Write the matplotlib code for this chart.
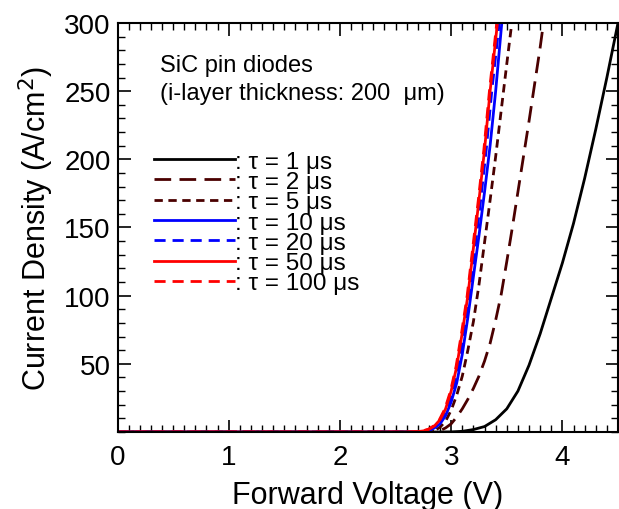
import numpy as np
import matplotlib.pyplot as plt
from matplotlib.ticker import MultipleLocator

plt.rcParams['font.family'] = ['Liberation Sans', 'DejaVu Sans']

# forward voltage (V) vs current density (A/cm^2)
v_1us = [0.0, 2.9, 3.0, 3.1, 3.2, 3.3, 3.4, 3.5, 3.6, 3.7, 3.8, 3.9, 4.0, 4.1, 4.2, 4.3, 4.4, 4.5]
j_1us = [0.0, 0.0, 0.1, 0.5, 1.8, 4.0, 9.0, 17.0, 30.0, 49.0, 72.0, 98.0, 124.0, 153.0, 186.0, 222.0, 260.0, 300.0]

v_2us = [0.0, 2.8, 2.9, 2.95, 3.0, 3.05, 3.1, 3.15, 3.2, 3.25, 3.3, 3.35, 3.4, 3.45,
         3.5, 3.55, 3.6, 3.65, 3.7, 3.75, 3.8, 3.83]
j_2us = [0.0, 0.0, 1.0, 3.0, 6.0, 11.0, 17.0, 24.0, 32.0, 41.0, 52.0, 65.0, 82.0, 101.0,
         125.0, 150.0, 176.0, 202.0, 228.0, 255.0, 282.0, 300.0]

v_5us = [0.0, 2.7, 2.82, 2.86, 2.9, 2.95, 3.0, 3.05, 3.1, 3.15, 3.2, 3.25, 3.3, 3.35,
         3.4, 3.45, 3.5, 3.545]
j_5us = [0.0, 0.0, 0.5, 1.5, 3.5, 8.0, 16.0, 27.0, 41.0, 60.0, 81.0, 108.0, 139.0, 170.0,
         202.0, 236.0, 270.0, 300.0]

v_10us = [0.0, 2.65, 2.75, 2.8, 2.85, 2.9, 2.95, 3.0, 3.05, 3.1, 3.15, 3.2, 3.25, 3.3,
          3.35, 3.4, 3.455]
j_10us = [0.0, 0.0, 0.3, 1.0, 3.0, 6.0, 12.0, 22.0, 36.0, 57.0, 84.0, 114.0, 144.0, 176.0,
          210.0, 250.0, 300.0]

v_20us = [0.0, 2.65, 2.715, 2.765, 2.815, 2.865, 2.915, 2.965, 3.015, 3.065, 3.115, 3.165,
          3.215, 3.265, 3.315, 3.365, 3.432]
j_20us = [0.0, 0.0, 0.3, 0.8, 2.0, 4.5, 9.0, 17.0, 30.0, 48.0, 73.0, 100.0, 135.0, 170.0,
          207.0, 250.0, 300.0]

v_50us = [0.0, 2.6, 2.7, 2.75, 2.8, 2.85, 2.9, 2.95, 3.0, 3.05, 3.1, 3.15, 3.2, 3.25,
          3.3, 3.35, 3.416]
j_50us = [0.0, 0.0, 0.3, 0.8, 2.0, 4.5, 9.0, 17.0, 30.0, 48.0, 73.0, 100.0, 135.0, 170.0,
          207.0, 250.0, 300.0]

v_100us = [0.0, 2.6, 2.694, 2.744, 2.794, 2.844, 2.894, 2.944, 2.994, 3.044, 3.094, 3.144,
           3.194, 3.244, 3.294, 3.344, 3.41]
j_100us = [0.0, 0.0, 0.3, 0.8, 2.0, 4.5, 9.0, 17.0, 30.0, 48.0, 73.0, 100.0, 135.0, 170.0,
           207.0, 250.0, 300.0]

labels = [': \u03c4 = 1 \u03bcs', ': \u03c4 = 2 \u03bcs', ': \u03c4 = 5 \u03bcs',
          ': \u03c4 = 10 \u03bcs', ': \u03c4 = 20 \u03bcs', ': \u03c4 = 50 \u03bcs',
          ': \u03c4 = 100 \u03bcs']

dark_red = '#4a0000'

fig = plt.figure(figsize=(6.19, 5.10), dpi=100)
ax = fig.add_axes([117.5/619, 77/510, 500.5/619, 409/510])

lw = 2.0
ax.plot(v_1us, j_1us, color='black', lw=lw, label=labels[0])
ax.plot(v_2us, j_2us, color=dark_red, lw=lw, dashes=(6, 3), label=labels[1])
ax.plot(v_5us, j_5us, color=dark_red, lw=lw, dashes=(3, 2), label=labels[2])
ax.plot(v_10us, j_10us, color='blue', lw=lw, label=labels[3])
ax.plot(v_20us, j_20us, color='blue', lw=lw, dashes=(4, 2.5), label=labels[4])
ax.plot(v_50us, j_50us, color='red', lw=lw, label=labels[5])
ax.plot(v_100us, j_100us, color='red', lw=lw, dashes=(4, 2.5), label=labels[6])

ax.set_xlim(0, 4.5)
ax.set_ylim(0, 300)
ax.xaxis.set_major_locator(MultipleLocator(1))
ax.xaxis.set_minor_locator(MultipleLocator(0.1))
ax.set_yticks([50, 100, 150, 200, 250, 300])
ax.yaxis.set_minor_locator(MultipleLocator(10))
ax.tick_params(which='both', direction='in', top=True, right=True, labelsize=20)
ax.tick_params(which='major', length=9, width=1.2)
ax.tick_params(which='minor', length=5, width=1.0)
ax.tick_params(axis='x', pad=9)
ax.tick_params(axis='y', pad=5)
for s in ax.spines.values():
    s.set_linewidth(1.5)

ax.set_xlabel('Forward Voltage (V)', fontsize=22, labelpad=7)
ax.set_ylabel('Current Density (A/cm$^2$)', fontsize=22, labelpad=6)

ax.text(0.085, 0.925, 'SiC pin diodes\n(i-layer thickness: 200  \u03bcm)',
        transform=ax.transAxes, fontsize=17, va='top', ha='left', linespacing=1.35)

ax.legend(loc='upper left', bbox_to_anchor=(0.072, 0.688), frameon=False,
          fontsize=17.5, handlelength=3.35, handletextpad=0.0, labelspacing=-0.07,
          borderpad=0.0, borderaxespad=0.0)

fig.savefig('out.png', dpi=100)
